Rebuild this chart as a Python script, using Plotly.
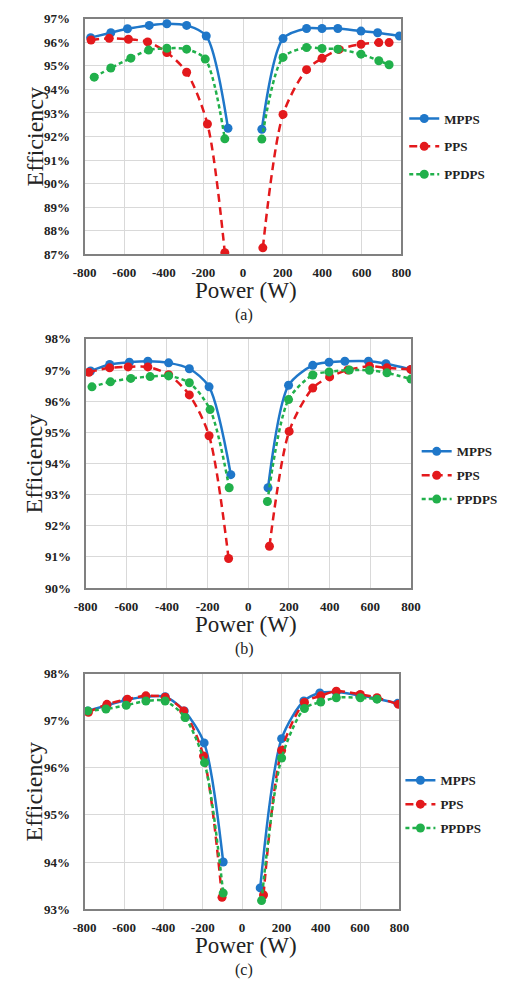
import plotly.graph_objects as go

# ---- (a) efficiency vs. power ----
a_mpps_p_left = [-770, -668, -584, -474, -385, -285, -186, -76]
a_mpps_e_left = [96.20, 96.41, 96.58, 96.72, 96.79, 96.72, 96.27, 92.35]
a_mpps_p_right = [95, 202, 321, 399, 479, 596, 680, 790]
a_mpps_e_right = [92.31, 96.16, 96.59, 96.59, 96.59, 96.48, 96.41, 96.27]

a_pps_p_left = [-768, -676, -579, -482, -385, -285, -180, -92]
a_pps_e_left = [96.10, 96.17, 96.13, 96.02, 95.57, 94.73, 92.53, 87.06]
a_pps_p_right = [100, 202, 321, 399, 485, 596, 686, 738]
a_pps_e_right = [87.27, 92.94, 94.84, 95.32, 95.70, 95.92, 95.99, 95.99]

a_ppdps_p_left = [-752, -668, -567, -477, -385, -285, -191, -92]
a_ppdps_e_left = [94.52, 94.91, 95.33, 95.67, 95.75, 95.71, 95.29, 91.90]
a_ppdps_p_right = [95, 202, 321, 399, 479, 596, 686, 738]
a_ppdps_e_right = [91.89, 95.36, 95.78, 95.74, 95.71, 95.50, 95.22, 95.05]

# ---- (b) ----
b_mpps_p_left = [-776, -682, -585, -494, -392, -290, -193, -86]
b_mpps_e_left = [96.97, 97.18, 97.25, 97.28, 97.23, 97.04, 96.46, 93.64]
b_mpps_p_right = [97, 198, 317, 397, 475, 591, 677, 800]
b_mpps_e_right = [93.22, 96.51, 97.15, 97.25, 97.28, 97.28, 97.20, 97.02]

b_pps_p_left = [-784, -682, -591, -494, -392, -290, -193, -97]
b_pps_e_left = [96.93, 97.07, 97.10, 97.10, 96.85, 96.20, 94.89, 90.95]
b_pps_p_right = [104, 201, 317, 400, 490, 596, 682, 800]
b_pps_e_right = [91.34, 95.03, 96.42, 96.78, 97.00, 97.12, 97.07, 97.02]

b_ppdps_p_left = [-769, -678, -578, -483, -392, -290, -188, -94]
b_ppdps_e_left = [96.46, 96.62, 96.73, 96.79, 96.81, 96.59, 95.73, 93.22]
b_ppdps_p_right = [94, 198, 317, 397, 497, 596, 682, 800]
b_ppdps_e_right = [92.78, 96.05, 96.84, 96.94, 97.00, 96.99, 96.91, 96.71]

# ---- (c) ----
c_mpps_p_left = [-784, -687, -589, -489, -391, -294, -193, -96]
c_mpps_e_left = [97.21, 97.33, 97.44, 97.51, 97.51, 97.21, 96.53, 94.00]
c_mpps_p_right = [92, 201, 314, 395, 479, 597, 686, 791]
c_mpps_e_right = [93.45, 96.62, 97.42, 97.59, 97.61, 97.54, 97.47, 97.37]

c_pps_p_left = [-781, -687, -583, -489, -391, -297, -196, -102]
c_pps_e_left = [97.18, 97.35, 97.46, 97.53, 97.50, 97.21, 96.25, 93.25]
c_pps_p_right = [109, 201, 317, 400, 479, 601, 686, 795]
c_pps_e_right = [93.30, 96.37, 97.39, 97.53, 97.63, 97.56, 97.49, 97.35]

c_ppdps_p_left = [-784, -692, -589, -489, -391, -290, -191, -96]
c_ppdps_e_left = [97.21, 97.25, 97.33, 97.42, 97.42, 97.07, 96.11, 93.34]
c_ppdps_p_right = [99, 201, 317, 400, 479, 601, 686]
c_ppdps_e_right = [93.18, 96.21, 97.26, 97.40, 97.49, 97.49, 97.46]

series_names = ["MPPS", "PPS", "PPDPS"]
panel_labels = ["(a)", "(b)", "(c)"]
x_ticks = [-800, -600, -400, -200, 0, 200, 400, 600, 800]

panels = [
    [(a_mpps_p_left, a_mpps_e_left, a_mpps_p_right, a_mpps_e_right),
     (a_pps_p_left, a_pps_e_left, a_pps_p_right, a_pps_e_right),
     (a_ppdps_p_left, a_ppdps_e_left, a_ppdps_p_right, a_ppdps_e_right)],
    [(b_mpps_p_left, b_mpps_e_left, b_mpps_p_right, b_mpps_e_right),
     (b_pps_p_left, b_pps_e_left, b_pps_p_right, b_pps_e_right),
     (b_ppdps_p_left, b_ppdps_e_left, b_ppdps_p_right, b_ppdps_e_right)],
    [(c_mpps_p_left, c_mpps_e_left, c_mpps_p_right, c_mpps_e_right),
     (c_pps_p_left, c_pps_e_left, c_pps_p_right, c_pps_e_right),
     (c_ppdps_p_left, c_ppdps_e_left, c_ppdps_p_right, c_ppdps_e_right)],
]

y_ranges = [(87, 97), (90, 98), (93, 98)]

W, H = 508, 987
# plot areas in pixels: (left, right, top, bottom)
boxes = [(76, 407, 12, 251), (77, 417, 337, 590), (76, 405, 677, 916)]
legend_pos = [(410, 98, 8), (423, 436, 4), (406, 770, 4)]

colors = ["#1F77C9", "#E3191C", "#21B04B"]
dashes = ["solid", "8px,5px", "4px,3px"]
serif = "Liberation Serif"

fig = go.Figure()
layout = dict(
    width=W, height=H, margin=dict(l=0, r=0, t=0, b=0),
    paper_bgcolor="white", plot_bgcolor="white", showlegend=True,
    annotations=[],
)

for i, panel in enumerate(panels):
    sfx = "" if i == 0 else str(i + 1)
    leg = "legend" if i == 0 else f"legend{i + 1}"
    for j, (pl, el, pr, er) in enumerate(panel):
        fig.add_trace(go.Scatter(
            x=pl + [None] + pr,
            y=el + [None] + er,
            mode="lines+markers",
            name=series_names[j],
            line=dict(color=colors[j], width=2.5, dash=dashes[j], shape="spline", smoothing=0.8),
            marker=dict(color=colors[j], size=9),
            connectgaps=False,
            xaxis=f"x{sfx}", yaxis=f"y{sfx}",
            legend=leg, legendgroup=f"{i}-{j}",
        ))
    l, r, t, b = boxes[i]
    layout[f"xaxis{sfx}"] = dict(
        domain=[l / W, r / W], anchor=f"y{sfx}", range=[-800, 800],
        tickvals=x_ticks, ticktext=[str(v) for v in x_ticks],
        showgrid=True, gridcolor="#D9D9D9", gridwidth=1, zeroline=False,
        showline=True, linecolor="#808080", linewidth=2, mirror=True,
        ticks="", ticklabelstandoff=5,
        tickfont=dict(family=serif, size=13, color="#222", weight="bold"),
    )
    y0, y1 = y_ranges[i]
    layout[f"yaxis{sfx}"] = dict(
        domain=[1 - b / H, 1 - t / H], anchor=f"x{sfx}", range=[y0, y1],
        dtick=1, ticksuffix="%",
        showgrid=True, gridcolor="#D9D9D9", gridwidth=1, zeroline=False,
        showline=True, linecolor="#808080", linewidth=2, mirror=True,
        ticks="", ticklabelstandoff=10,
        tickfont=dict(family=serif, size=13, color="#222", weight="bold"),
    )
    lx, ly, gap = legend_pos[i]
    layout[leg] = dict(
        x=lx / W, y=1 - ly / H, xanchor="left", yanchor="top",
        bgcolor="rgba(0,0,0,0)", tracegroupgap=gap, traceorder="grouped",
        font=dict(family=serif, size=13, color="#222", weight="bold"),
    )
    # axis titles and panel caption
    layout["annotations"] += [
        dict(text="Efficiency", x=23 / W, y=1 - ((t + b) / 2) / H, xref="paper", yref="paper",
             textangle=-90, showarrow=False, xanchor="center", yanchor="middle",
             font=dict(family=serif, size=24, color="#222")),
        dict(text="Power (W)", x=245 / W, y=1 - (b + 37) / H, xref="paper", yref="paper",
             showarrow=False, xanchor="center", yanchor="middle",
             font=dict(family=serif, size=23, color="#222")),
        dict(text=panel_labels[i], x=243 / W, y=1 - (b + 62) / H, xref="paper", yref="paper",
             showarrow=False, xanchor="center", yanchor="middle",
             font=dict(family=serif, size=16, color="#222")),
    ]

fig.update_layout(**layout)
fig.write_html("out.html")
